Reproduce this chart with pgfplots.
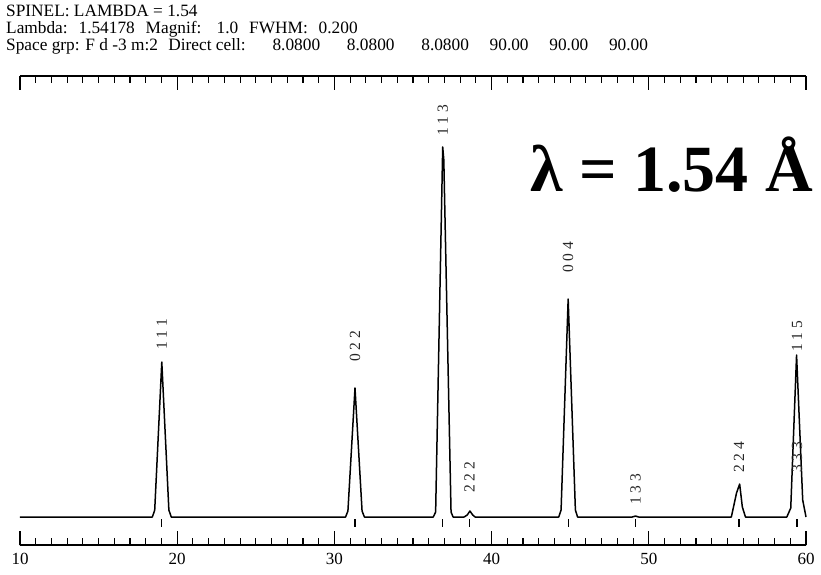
\documentclass[border=0pt]{standalone}
\usepackage{pgfplots}
\pgfplotsset{compat=1.18}
\usepackage{fontspec}
\setmainfont{Liberation Serif}
\begin{document}
\begin{tikzpicture}
\begin{axis}[
  scale only axis, width=786pt, height=469pt,
  xmin=10, xmax=60, ymin=-28, ymax=441,
  hide y axis,
  xtick={10,20,30,40,50,60},
  minor x tick num=9,
  tick align=inside,
  major tick length=14pt, minor tick length=7.5pt,
  every tick/.style={black, line width=1.1pt},
  axis line style={line width=1.2pt},
  x axis line style={line width=1.2pt},
  /pgf/number format/assume math mode=true,
  xticklabel style={font=\fontsize{17}{17}\selectfont, yshift=-5pt},
  clip=false,
]
\addplot[black, line width=1.5pt, line join=round] coordinates {
 (10,0)
 (18.42,0) (18.57,7) (19.02,155) (19.47,7) (19.62,0)
 (30.71,0) (30.86,6) (31.31,129) (31.76,6) (31.91,0)
 (36.29,0) (36.44,5) (36.89,370) (36.96,357) (37.42,5) (37.55,0)
 (38.25,0) (38.45,2) (38.62,6) (38.8,2) (38.95,0)
 (44.27,0) (44.42,7) (44.87,218) (45.33,7) (45.47,0)
 (48.95,0) (49.15,1) (49.35,0)
 (55.25,0) (55.58,24) (55.78,33) (55.95,10) (56.15,0)
 (58.78,0) (59.03,9) (59.40,162) (59.79,17) (60,0)
};
\addplot[only marks, mark=|, mark size=4pt, mark options={line width=1.3pt, black}] coordinates {
 (19.02,-6) (31.31,-6) (36.89,-6) (38.60,-6) (44.87,-6) (49.15,-6) (55.73,-6) (59.43,-6)
};
\begin{scope}[every node/.style={rotate=90, anchor=west, inner sep=0pt, font=\fontsize{15.5}{15.5}\selectfont, text=black!85}]
\node at (axis cs:19.02,167) {1 1 1};
\node at (axis cs:31.31,155) {0 2 2};
\node at (axis cs:36.89,381) {1 1 3};
\node at (axis cs:38.60,24) {2 2 2};
\node at (axis cs:44.87,244) {0 0 4};
\node at (axis cs:49.15,12) {1 3 3};
\node at (axis cs:55.73,44) {2 2 4};
\node at (axis cs:59.43,165) {1 1 5};
\node at (axis cs:59.43,44) {3 3 3};
\end{scope}
\node[anchor=base east, inner sep=0pt, font=\fontsize{66}{66}\selectfont\bfseries] at (axis cs:60.45,326) {λ = 1.54 Å};
\end{axis}
\begin{scope}[every node/.style={anchor=base west, inner sep=0pt, font=\fontsize{17.3}{17}\selectfont}]
\node at ([shift={(-14pt,528pt)}]current axis.south west) {SPINEL: LAMBDA = 1.54};
\node at ([shift={(-14pt,511pt)}]current axis.south west) {Lambda:\hspace{0.63em}1.54178\hspace{0.63em}Magnif:\hspace{0.88em}1.0\hspace{0.63em}FWHM:\hspace{0.63em}0.200};
\node at ([shift={(-14pt,494pt)}]current axis.south west) {Space grp: F d -3 m:2\hspace{0.6em}Direct cell:\hspace{1.55em}8.0800\hspace{1.55em}8.0800\hspace{1.55em}8.0800\hspace{1.2em}90.00\hspace{1.2em}90.00\hspace{1.2em}90.00};
\end{scope}
\path ([shift={(-20pt,-29pt)}]current axis.south west) rectangle ++(821pt,574pt);
\end{tikzpicture}
\end{document}
